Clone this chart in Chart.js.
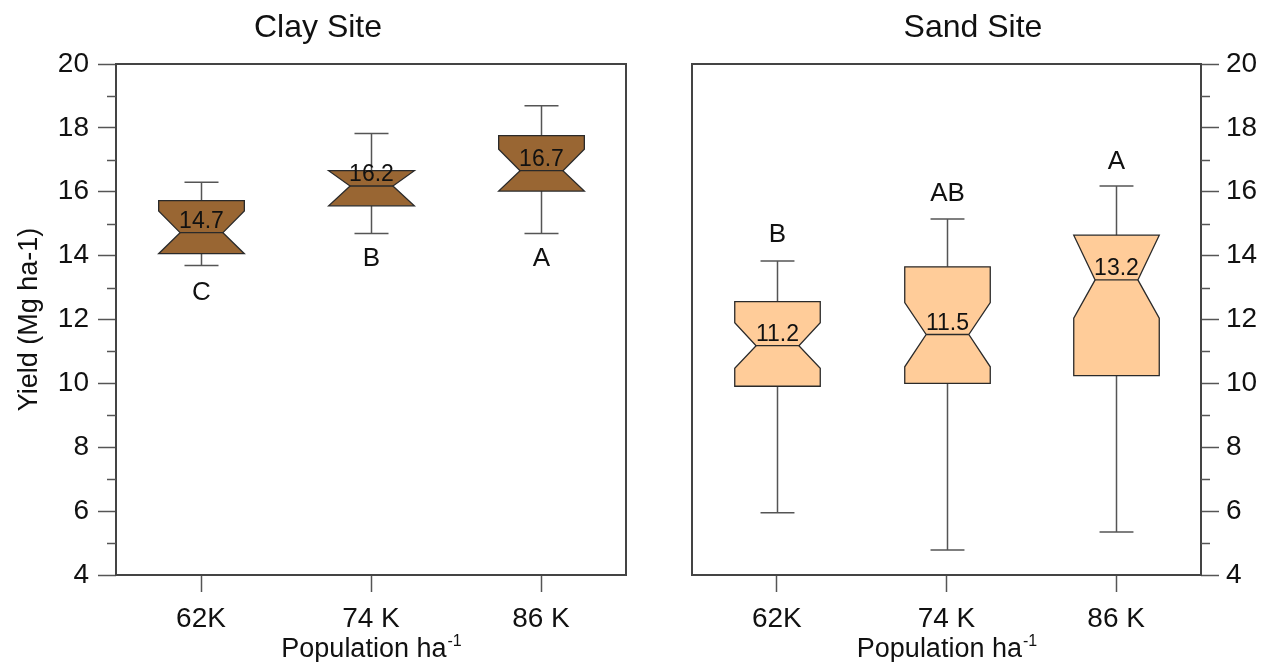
<!DOCTYPE html>
<html>
<head>
<meta charset="utf-8">
<script src="https://cdn.jsdelivr.net/npm/chart.js@4.4.1/dist/chart.umd.min.js"></script>
<style>
    html, body { margin: 0; padding: 0; background: #fff; }
    #wrap { position: relative; width: 1262px; height: 662px; }
    canvas { position: absolute; top: 0; }
    #clayChart { left: 0; }
    #sandChart { left: 640px; }
</style>
</head>
<body>
<div id="wrap">
    <canvas id="clayChart" width="640" height="662"></canvas>
    <canvas id="sandChart" width="622" height="662"></canvas>
</div>
<script>
// categories and axis
const categories = ["62K", "74 K", "86 K"];
const yMin = 4;
const yMax = 20;
const yStep = 2;

// Clay site
const clayLow = [13.69, 14.69, 14.69];
const clayQ1 = [14.06, 15.56, 16.02];
const clayMedian = [14.72, 16.18, 16.66];
const clayQ3 = [15.72, 16.66, 17.76];
const clayHigh = [16.30, 17.82, 18.69];
const clayNotchLow = [14.06, 15.56, 16.02];
const clayNotchHigh = [15.40, 16.66, 17.33];
const clayLetters = ["C", "B", "A"];
const clayLetterAt = [12.85, 13.9, 13.9];

// Sand site
const sandLow = [5.95, 4.78, 5.35];
const sandQ1 = [9.91, 10.0, 10.24];
const sandMedian = [11.18, 11.53, 13.24];
const sandQ3 = [12.56, 13.65, 14.64];
const sandHigh = [13.83, 15.15, 16.18];
const sandNotchLow = [10.47, 10.52, 12.04];
const sandNotchHigh = [11.90, 12.53, 14.64];
const sandLetters = ["B", "AB", "A"];
const sandLetterAt = [14.65, 15.93, 16.94];

(function () {
    "use strict";

    const FONT = "Liberation Sans, Arial, sans-serif";
    const INK = "#111";

    // notched boxes, whiskers, letters and the frame
    const notchedBox = {
        id: "notchedBox",
        beforeDatasetsDraw(chart) {
            const a = chart.chartArea;
            const ctx = chart.ctx;
            ctx.save();
            ctx.strokeStyle = "#444";
            ctx.lineWidth = 2;
            ctx.strokeRect(a.left, a.top, a.right - a.left, a.bottom - a.top);

            // minor ticks
            const y = chart.scales.y;
            const right = y.position === "right";
            const edge = right ? a.right : a.left;
            ctx.strokeStyle = "#555";
            ctx.lineWidth = 1.5;
            for (let v = yMin + 1; v < yMax; v += yStep) {
                const py = Math.round(y.getPixelForValue(v)) + 0.5;
                ctx.beginPath();
                ctx.moveTo(edge, py);
                ctx.lineTo(right ? edge + 9 : edge - 9, py);
                ctx.stroke();
            }
            ctx.restore();
        },
        afterDatasetsDraw(chart, args, o) {
            const ctx = chart.ctx;
            const x = chart.scales.x;
            const y = chart.scales.y;
            const s = o.stats;
            const step = x.getPixelForValue(1) - x.getPixelForValue(0);
            const half = step * 0.252;
            const waist = half * 0.5;
            const cap = step * 0.1;

            ctx.save();
            categories.forEach((c, i) => {
                const cx = Math.round(x.getPixelForValue(i)) + 0.5;
                const yLow = y.getPixelForValue(s.low[i]);
                const yHigh = y.getPixelForValue(s.high[i]);
                const y1 = y.getPixelForValue(s.q1[i]);
                const y3 = y.getPixelForValue(s.q3[i]);
                const ym = y.getPixelForValue(s.median[i]);
                const nLo = y.getPixelForValue(Math.max(s.notchLow[i], s.q1[i]));
                const nHi = y.getPixelForValue(Math.min(s.notchHigh[i], s.q3[i]));

                // whiskers
                ctx.strokeStyle = "#555";
                ctx.lineWidth = 1.5;
                ctx.beginPath();
                ctx.moveTo(cx, y3);
                ctx.lineTo(cx, yHigh);
                ctx.moveTo(cx - cap, yHigh);
                ctx.lineTo(cx + cap, yHigh);
                ctx.moveTo(cx, y1);
                ctx.lineTo(cx, yLow);
                ctx.moveTo(cx - cap, yLow);
                ctx.lineTo(cx + cap, yLow);
                ctx.stroke();

                // box
                ctx.beginPath();
                ctx.moveTo(cx - half, y3);
                ctx.lineTo(cx + half, y3);
                ctx.lineTo(cx + half, nHi);
                ctx.lineTo(cx + waist, ym);
                ctx.lineTo(cx + half, nLo);
                ctx.lineTo(cx + half, y1);
                ctx.lineTo(cx - half, y1);
                ctx.lineTo(cx - half, nLo);
                ctx.lineTo(cx - waist, ym);
                ctx.lineTo(cx - half, nHi);
                ctx.closePath();
                ctx.fillStyle = o.fill;
                ctx.fill();
                ctx.strokeStyle = "#2a2a2a";
                ctx.lineWidth = 1.3;
                ctx.stroke();

                ctx.beginPath();
                ctx.moveTo(cx - waist, ym);
                ctx.lineTo(cx + waist, ym);
                ctx.stroke();

                // median value
                ctx.fillStyle = INK;
                ctx.textAlign = "center";
                ctx.textBaseline = "alphabetic";
                ctx.font = "23px " + FONT;
                ctx.fillText(s.median[i].toFixed(1), cx, ym - 5);

                // letters
                ctx.font = "26px " + FONT;
                ctx.textBaseline = "middle";
                ctx.fillText(s.letters[i], cx, y.getPixelForValue(s.letterAt[i]));
            });
            ctx.restore();
        },
        afterDraw(chart, args, o) {
            const ctx = chart.ctx;
            const a = chart.chartArea;
            ctx.save();
            ctx.fillStyle = INK;
            ctx.textBaseline = "alphabetic";

            ctx.textAlign = "center";
            ctx.font = "32px " + FONT;
            ctx.fillText(o.title, o.titleX, 37);

            // x title with superscript
            const main = "Population ha";
            const sup = "-1";
            ctx.font = "27px " + FONT;
            const w1 = ctx.measureText(main).width;
            ctx.font = "16px " + FONT;
            const w2 = ctx.measureText(sup).width;
            const x0 = (a.left + a.right) / 2 - (w1 + w2) / 2;
            ctx.textAlign = "left";
            ctx.font = "27px " + FONT;
            ctx.fillText(main, x0, 657);
            ctx.font = "16px " + FONT;
            ctx.fillText(sup, x0 + w1 + 1, 646);
            ctx.restore();
        },
    };

    function makeChart(id, side, stats, fill, title, titleX, pad, axisWidth) {
        return new Chart(document.getElementById(id), {
            type: "line",
            data: {
                labels: categories,
                datasets: [
                    {
                        data: stats.median,
                        showLine: false,
                        pointRadius: 0,
                        pointHoverRadius: 0,
                    },
                ],
            },
            plugins: [notchedBox],
            options: {
                responsive: false,
                animation: false,
                events: [],
                layout: {
                    padding: pad,
                },
                plugins: {
                    legend: {
                        display: false,
                    },
                    tooltip: {
                        enabled: false,
                    },
                    notchedBox: {
                        stats: stats,
                        fill: fill,
                        title: title,
                        titleX: titleX,
                    },
                },
                scales: {
                    x: {
                        type: "category",
                        offset: true,
                        afterFit: (scale) => {
                            scale.height = 87;
                        },
                        grid: {
                            drawOnChartArea: false,
                            tickLength: 17,
                            tickColor: "#555",
                            tickWidth: 1.5,
                        },
                        border: {
                            display: false,
                        },
                        ticks: {
                            color: INK,
                            padding: 10,
                            font: {
                                family: FONT,
                                size: 28,
                            },
                        },
                    },
                    y: {
                        position: side,
                        min: yMin,
                        max: yMax,
                        afterFit: (scale) => {
                            scale.width = axisWidth;
                        },
                        grid: {
                            drawOnChartArea: false,
                            tickLength: 18,
                            tickWidth: 1.5,
                            tickColor: "#555",
                        },
                        border: {
                            display: false,
                        },
                        ticks: {
                            stepSize: yStep,
                            autoSkip: false,
                            color: INK,
                            padding: side === "left" ? 9 : 7,
                            font: {
                                family: FONT,
                                size: 28,
                            },
                        },
                        title: {
                            display: side === "left",
                            text: "Yield (Mg ha-1)",
                            color: INK,
                            padding: { top: 13, bottom: 0 },
                            font: {
                                family: FONT,
                                size: 27,
                            },
                        },
                    },
                },
            },
        });
    }

    makeChart(
        "clayChart",
        "left",
        {
            low: clayLow,
            q1: clayQ1,
            median: clayMedian,
            q3: clayQ3,
            high: clayHigh,
            notchLow: clayNotchLow,
            notchHigh: clayNotchHigh,
            letters: clayLetters,
            letterAt: clayLetterAt,
        },
        "#996633",
        "Clay Site",
        318,
        { top: 64, right: 14, bottom: 0, left: 0 },
        116
    );

    makeChart(
        "sandChart",
        "right",
        {
            low: sandLow,
            q1: sandQ1,
            median: sandMedian,
            q3: sandQ3,
            high: sandHigh,
            notchLow: sandNotchLow,
            notchHigh: sandNotchHigh,
            letters: sandLetters,
            letterAt: sandLetterAt,
        },
        "#ffcc99",
        "Sand Site",
        333,
        { top: 64, right: 0, bottom: 0, left: 52 },
        61
    );
})();
</script>
</body>
</html>
